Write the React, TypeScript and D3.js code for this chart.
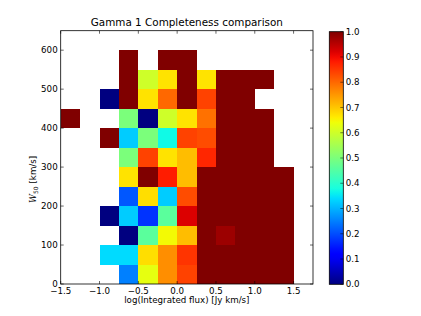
import React from 'react'
import * as d3 from 'd3'

// bin edges (left / bottom) of the 2D histogram
const fluxBins = [-1.5, -1.25, -1.0, -0.75, -0.5, -0.25, 0.0, 0.25, 0.5, 0.75, 1.0, 1.25]
const fluxStep = 0.25
const w50Bins = [0, 50, 100, 150, 200, 250, 300, 350, 400, 450, 500, 550]
const w50Step = 50

// completeness per cell, one row per W50 bin (bottom to top), null = no data
const completeness: (number | null)[][] = [
  [null, null, null, 0.25, 0.63, 0.76, 0.84, 1, 1, 1, 1, 1],
  [null, null, 0.34, 0.34, 0.675, 0.76, 0.855, 1, 1, 1, 1, 1],
  [null, null, null, 0.0, 0.46, 0.645, 0.71, 1, 0.975, 1, 1, 1],
  [null, null, 0.0, 0.325, 0.175, 0.46, 0.92, 1, 1, 1, 1, 1],
  [null, null, null, 0.21, 0.675, 0.325, 0.83, 1, 1, 1, 1, 1],
  [null, null, null, 0.67, 1.0, 0.88, 0.71, 1, 1, 1, 1, 1],
  [null, null, null, 0.5, 0.84, 0.67, 0.71, 0.87, 1, 1, 1, null],
  [null, null, 1.0, 0.325, 0.5, 0.37, 0.84, 0.83, 1, 1, 1, null],
  [1.0, null, null, 0.5, 0.0, 0.6, 0.67, 0.79, 1, 1, 1, null],
  [null, null, 0.0, 1.0, 0.67, 0.8, 1.0, 0.84, 1, 1, null, null],
  [null, null, null, 1.0, 0.6, 0.67, 1.0, 0.67, 1, 1, 1, null],
  [null, null, null, 1.0, null, 1.0, 1.0, null, null, null, null, null],
]

const xTicks = [-1.5, -1.0, -0.5, 0.0, 0.5, 1.0, 1.5]
const yTicks = [0, 100, 200, 300, 400, 500, 600]
const cbTicks = [0, 0.1, 0.2, 0.3, 0.4, 0.5, 0.6, 0.7, 0.8, 0.9, 1.0]

const title = 'Gamma 1 Completeness comparison'
const xTitle = 'log(Integrated flux) [Jy km/s]'

// matplotlib "jet"
const jr = d3.scaleLinear<number>().domain([0, 0.35, 0.66, 0.89, 1]).range([0, 0, 1, 1, 0.5]).clamp(true)
const jg = d3.scaleLinear<number>().domain([0, 0.125, 0.375, 0.64, 0.91, 1]).range([0, 0, 1, 1, 0, 0]).clamp(true)
const jb = d3.scaleLinear<number>().domain([0, 0.11, 0.34, 0.65, 1]).range([0.5, 1, 1, 0, 0]).clamp(true)
const jet = (v: number) =>
  d3.rgb(Math.round(jr(v) * 255), Math.round(jg(v) * 255), Math.round(jb(v) * 255)).formatHex()

const fmt = (v: number) => d3.format('.1f')(v).replace('-', '\u2212')

export default function App() {
  const W = 421
  const H = 316
  const left = 60.7, right = 313, top = 30.7, bottom = 284
  const cbLeft = 329.3, cbRight = 343.3, cbTop = 31.7, cbBottom = 284.3

  const x = d3.scaleLinear().domain([-1.5, 1.75]).range([left, right])
  const y = d3.scaleLinear().domain([0, 650]).range([bottom, top])
  const c = d3.scaleLinear().domain([0, 1]).range([cbBottom, cbTop])

  const font = 'DejaVu Sans, sans-serif'
  const stops = d3.range(0, 1.0001, 0.02)

  return (
    <svg width={W} height={H} style={{ position: 'absolute', left: 0, top: 0, background: '#fff' }}
      fontFamily={font}>
      <defs>
        <linearGradient id="jetbar" x1="0" y1="1" x2="0" y2="0">
          {stops.map(s => <stop key={s} offset={s} stopColor={jet(s)} />)}
        </linearGradient>
      </defs>

      {/* cells */}
      <g shapeRendering="crispEdges">
        {completeness.map((row, ri) =>
          row.map((v, ci) =>
            v === null ? null : (
              <rect key={ri + '-' + ci}
                x={x(fluxBins[ci])}
                y={y(w50Bins[ri] + w50Step)}
                width={x(fluxBins[ci] + fluxStep) - x(fluxBins[ci])}
                height={y(w50Bins[ri]) - y(w50Bins[ri] + w50Step)}
                fill={jet(v)} />
            )))}
      </g>

      {/* frame */}
      <rect x={left} y={top} width={right - left} height={bottom - top} fill="none" stroke="#000" strokeWidth={0.8} />

      {/* x ticks */}
      {xTicks.map(t => (
        <g key={'x' + t}>
          <line x1={x(t)} x2={x(t)} y1={bottom} y2={bottom - 3} stroke="#000" strokeWidth={0.6} />
          <line x1={x(t)} x2={x(t)} y1={top} y2={top + 3} stroke="#000" strokeWidth={0.6} />
          <text x={x(t)} y={294} fontSize={8.7} textAnchor="middle">{fmt(t)}</text>
        </g>
      ))}
      {/* y ticks */}
      {yTicks.map(t => (
        <g key={'y' + t}>
          <line x1={left} x2={left + 3} y1={y(t)} y2={y(t)} stroke="#000" strokeWidth={0.6} />
          <line x1={right} x2={right - 3} y1={y(t)} y2={y(t)} stroke="#000" strokeWidth={0.6} />
          <text x={left - 3} y={y(t)} dy="0.35em" fontSize={8.7} textAnchor="end">{t}</text>
        </g>
      ))}

      <text x={(left + right) / 2} y={26} fontSize={10.4} textAnchor="middle">{title}</text>
      <text x={(left + right) / 2} y={303} fontSize={8.7} textAnchor="middle">{xTitle}</text>
      <text transform={`translate(36,${(top + bottom) / 2 + 22}) rotate(-90)`} fontSize={8.7} textAnchor="middle">
        <tspan fontStyle="italic" fontFamily="DejaVu Serif, serif">W</tspan>
        <tspan fontSize={6} dy={2}>50</tspan>
        <tspan dy={-2}>{' [km/s]'}</tspan>
      </text>

      {/* colorbar */}
      <rect x={cbLeft} y={cbTop} width={cbRight - cbLeft} height={cbBottom - cbTop} fill="url(#jetbar)"
        stroke="#000" strokeWidth={0.8} />
      {cbTicks.map(t => (
        <g key={'c' + t}>
          <line x1={cbRight} x2={cbRight - 3} y1={c(t)} y2={c(t)} stroke="#000" strokeWidth={0.5} />
          <text x={cbRight + 2.5} y={c(t)} dy="0.35em" fontSize={8.7}>{t.toFixed(1)}</text>
        </g>
      ))}
    </svg>
  )
}
